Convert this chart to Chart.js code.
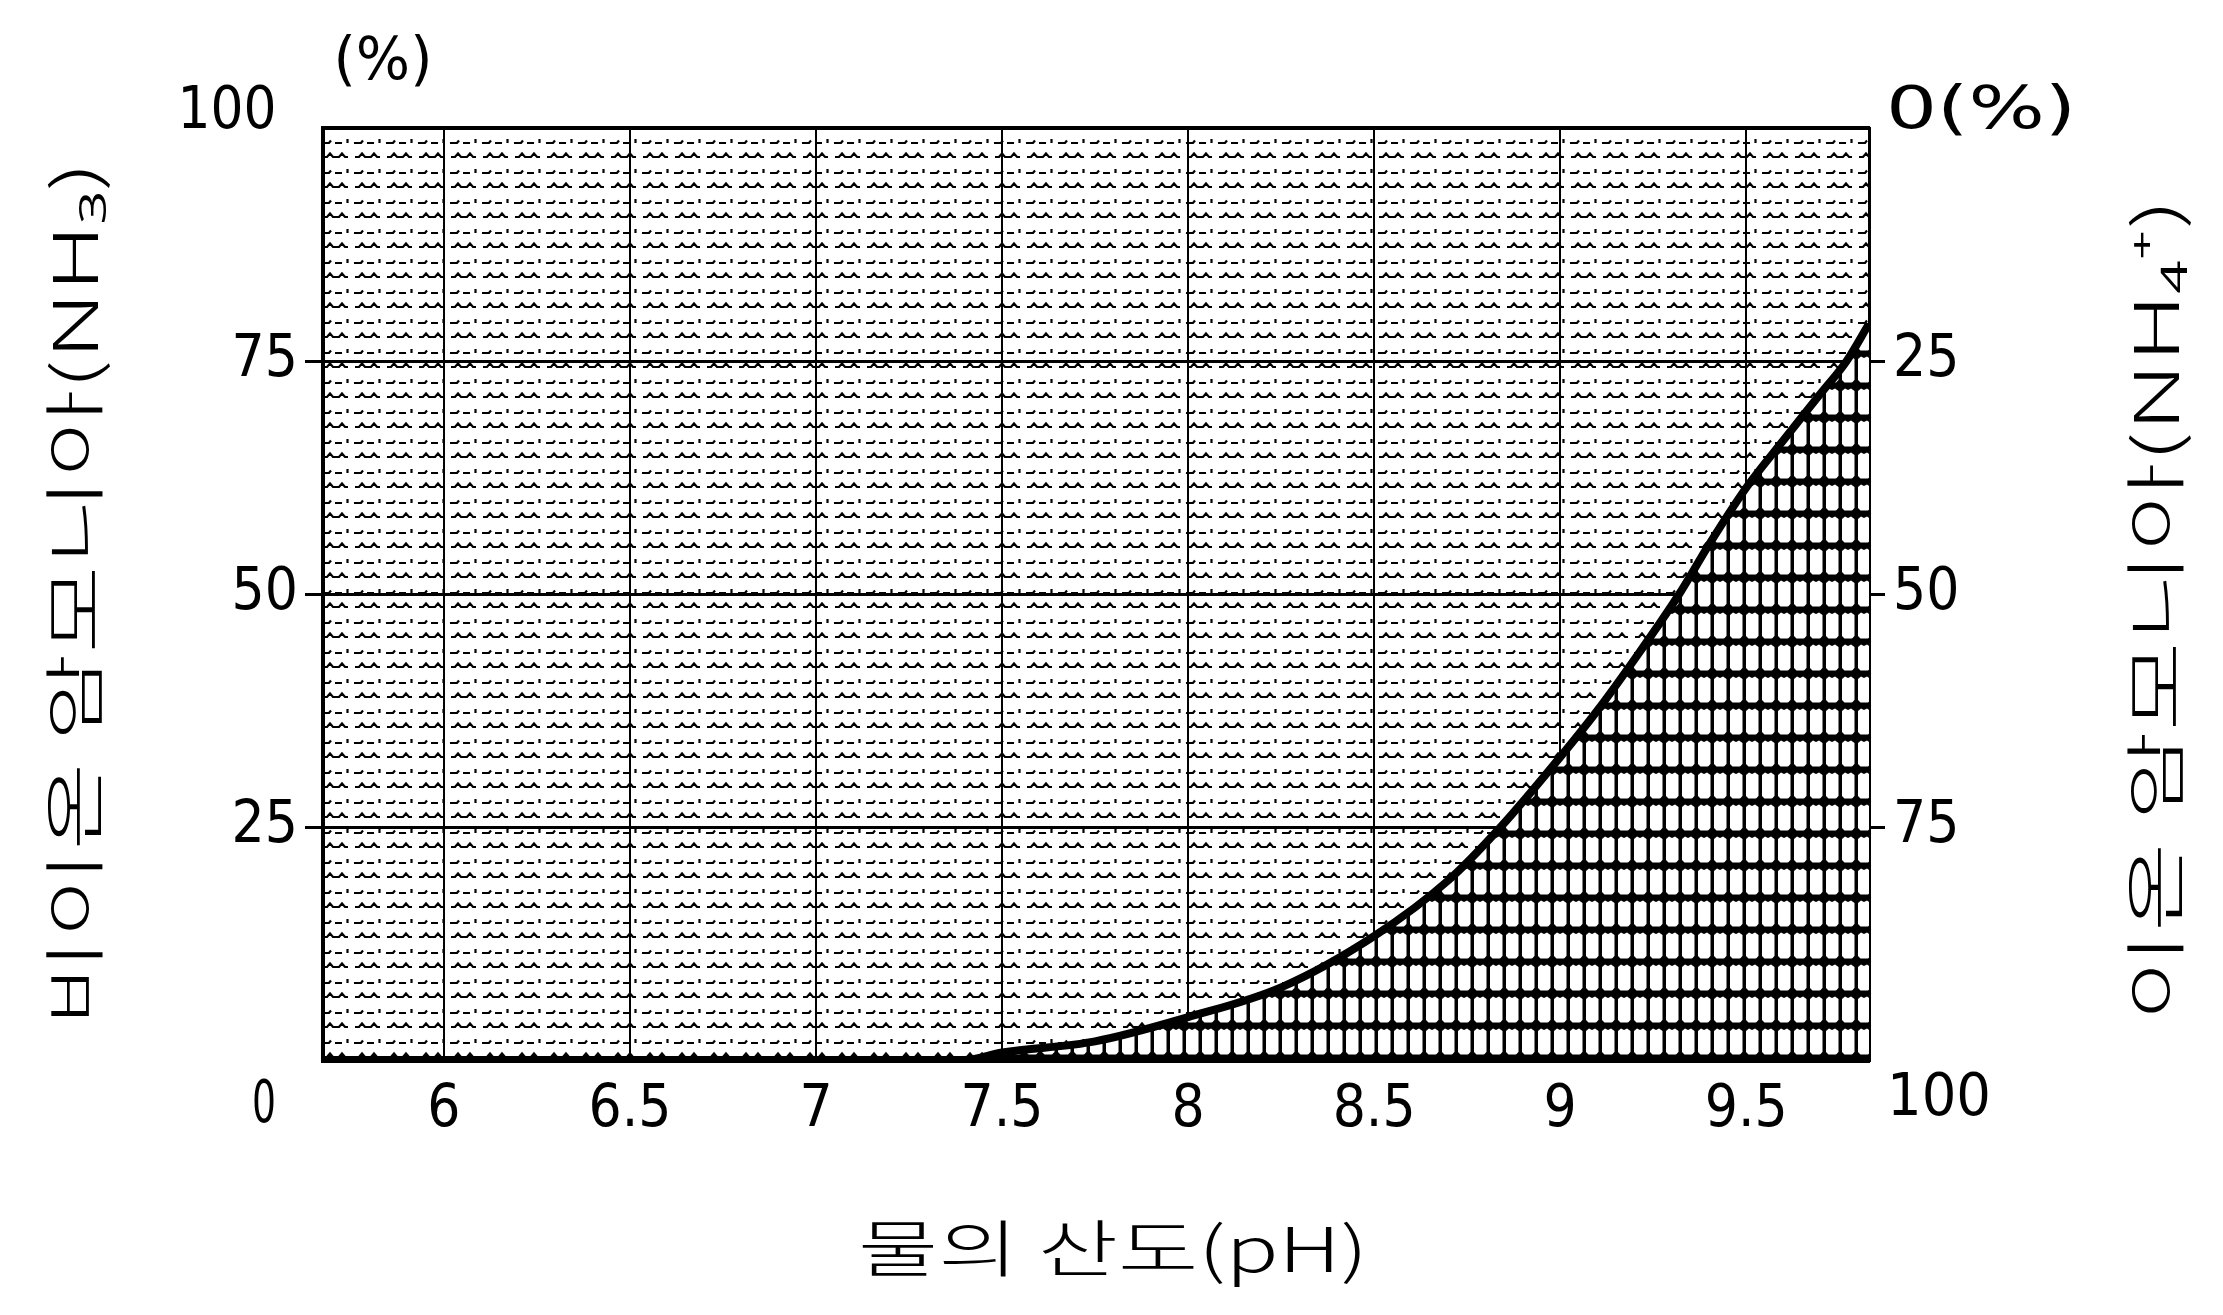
<!DOCTYPE html>
<html>
<head>
<meta charset="utf-8">
<script src="https://cdn.jsdelivr.net/npm/chart.js@4.4.1/dist/chart.umd.min.js"></script>
<style>
  html, body { margin: 0; padding: 0; background: #fff; }
  canvas { display: block; }
</style>
</head>
<body>
<canvas id="ammoniaChart" width="2223" height="1315"></canvas>
<script>
// values
const phValues  = [5.675, 7.4, 7.5, 7.75, 8.0, 8.25, 8.5, 8.7, 8.84, 9.0, 9.1, 9.2, 9.32, 9.4, 9.5, 9.6, 9.7, 9.77, 9.83];
const nh3Values = [0, 0, 0.8, 2.0, 4.6, 7.8, 13.3, 19.3, 25, 32.5, 37.5, 43, 50, 55.3, 61.4, 66.5, 71.5, 75, 79];
const xTicks = [6, 6.5, 7, 7.5, 8, 8.5, 9, 9.5];
const yTicks = [0, 25, 50, 75, 100];

const leftTitle = "비이온 암모니아(NH₃)";
const rightTitle = "이온 암모니아(NH₄⁺)";
const xTitle = "물의 산도(pH)";

const numFont = "'Liberation Sans Narrow', 'DejaVu Sans Condensed', 'Liberation Sans', sans-serif";
const krFont = "'Noto Sans CJK KR', 'Noto Sans', sans-serif";

// hatch for the area above the curve
function makeUpperPattern() {
    const c = document.createElement("canvas");
    c.width = 32; c.height = 30;
    const g = c.getContext("2d");
    g.strokeStyle = "#000";
    g.lineWidth = 2.2;
    g.beginPath();
    g.moveTo(3, 7); g.lineTo(7, 7); g.lineTo(10, 3.5); g.lineTo(13, 7);
    g.lineTo(19, 7); g.lineTo(22, 3.5); g.lineTo(25, 7); g.lineTo(28, 7);
    g.stroke();
    g.beginPath();
    g.moveTo(2, 23); g.lineTo(9, 23); g.lineTo(11, 20.5);
    g.moveTo(15, 23); g.lineTo(22, 23);
    g.moveTo(27.5, 19); g.lineTo(27.5, 23);
    g.stroke();
    return g.createPattern(c, "repeat");
}

// cells for the area below the curve
function makeLowerPattern() {
    const c = document.createElement("canvas");
    c.width = 16; c.height = 32;
    const g = c.getContext("2d");
    g.fillStyle = "#000";
    g.fillRect(0, 0, 16, 32);
    g.fillStyle = "#fff";
    g.beginPath();
    g.moveTo(2, 7); g.lineTo(5, 4.5); g.lineTo(8, 6); g.lineTo(11, 4.5); g.lineTo(14.5, 7);
    g.lineTo(14.5, 28); g.lineTo(12, 30.5); g.lineTo(4.5, 30.5); g.lineTo(2, 28);
    g.closePath();
    g.fill();
    return g.createPattern(c, "repeat");
}

function drawFit(ctx, text, cx, cy, len, rot, font) {
    ctx.save();
    ctx.translate(cx, cy);
    ctx.rotate(rot);
    ctx.font = font;
    ctx.textAlign = "center";
    ctx.textBaseline = "middle";
    const w = ctx.measureText(text).width;
    ctx.scale(len / w, 1);
    ctx.fillText(text, 0, 0);
    ctx.restore();
}

const extras = {
    id: "extras",
    afterDraw(chart) {
        const { ctx, chartArea: a, scales } = chart;
        ctx.save();
        // top border of the plot
        ctx.strokeStyle = "#000";
        ctx.lineWidth = 4;
        ctx.beginPath();
        ctx.moveTo(a.left - 2, a.top);
        ctx.lineTo(a.right + 1, a.top);
        ctx.stroke();

        ctx.fillStyle = "#000";
        const yTop = scales.y.getPixelForValue(100);
        const yBot = scales.y.getPixelForValue(0);
        const f = "58px " + numFont;
        // end labels of both percent axes
        drawFit(ctx, "100", a.left - 96, yTop - 15, 99, 0, f);
        drawFit(ctx, "0", a.left - 59, yBot + 47, 24, 0, f);
        drawFit(ctx, "0(%)", a.right + 112, yTop - 15, 190, 0, f);
        drawFit(ctx, "100", a.right + 70, yBot + 40, 104, 0, f);
        drawFit(ctx, "(%)", a.left + 60, 64, 99, 0, "58px " + numFont);

        // axis titles
        const kf = "300 62px " + krFont;
        drawFit(ctx, leftTitle, 74, (a.top + a.bottom) / 2, 865, -Math.PI / 2, kf);
        drawFit(ctx, rightTitle, 2155, 610, 823, -Math.PI / 2, kf);
        drawFit(ctx, xTitle, 1113, 1248, 510, 0, kf);
        ctx.restore();
    }
};

const points = phValues.map((x, i) => ({ x: x, y: nh3Values[i] }));
const hideEnds = (c) => (c.tick && c.tick.value % 100 === 0 ? "rgba(0,0,0,0)" : "#000");

const ctx = document.getElementById("ammoniaChart").getContext("2d");
const ammoniaChart = new Chart(ctx, {
    type: "line",
    data: {
        datasets: [
            {
                data: points,
                fill: "start",
                backgroundColor: makeLowerPattern(),
                borderWidth: 0,
                pointRadius: 0,
                cubicInterpolationMode: "monotone",
                order: 2,
            },
            {
                data: points,
                fill: "end",
                backgroundColor: makeUpperPattern(),
                borderColor: "#000",
                borderWidth: 8,
                pointRadius: 0,
                cubicInterpolationMode: "monotone",
                order: 1,
            },
        ],
    },
    options: {
        responsive: false,
        devicePixelRatio: 1,
        animation: false,
        layout: { padding: { top: 128, left: 0, right: 0, bottom: 0 } },
        plugins: {
            legend: { display: false },
            tooltip: { enabled: false },
        },
        scales: {
            x: {
                type: "linear",
                min: 5.675,
                max: 9.83,
                afterBuildTicks: (s) => { s.ticks = xTicks.map((v) => ({ value: v })); },
                afterFit: (s) => { s.height = 255; },
                grid: { color: "#000", lineWidth: 2, drawTicks: false },
                border: { color: "#000", width: 5 },
                ticks: {
                    color: "#000",
                    font: { family: numFont, size: 58 },
                    padding: 16,
                    maxRotation: 0,
                    autoSkip: false,
                    callback: (v) => String(v),
                },
            },
            y: {
                position: "left",
                min: 0,
                max: 100,
                afterBuildTicks: (s) => { s.ticks = yTicks.map((v) => ({ value: v })); },
                afterFit: (s) => { s.width = 323; },
                grid: { color: hideEnds, lineWidth: 3, tickLength: 18 },
                border: { color: "#000", width: 4 },
                ticks: {
                    color: "#000",
                    font: { family: numFont, size: 58 },
                    padding: 7,
                    callback: (v) => (v % 100 === 0 ? "" : String(v)),
                },
            },
            y2: {
                position: "right",
                min: 0,
                max: 100,
                reverse: true,
                afterBuildTicks: (s) => { s.ticks = yTicks.map((v) => ({ value: v })); },
                afterFit: (s) => { s.width = 354; },
                grid: { drawOnChartArea: false, color: hideEnds, lineWidth: 3, tickLength: 16 },
                border: { color: "#000", width: 3 },
                ticks: {
                    color: "#000",
                    font: { family: numFont, size: 58 },
                    padding: 8,
                    callback: (v) => (v % 100 === 0 ? "" : String(v)),
                },
            },
        },
    },
    plugins: [extras],
});
</script>
</body>
</html>
